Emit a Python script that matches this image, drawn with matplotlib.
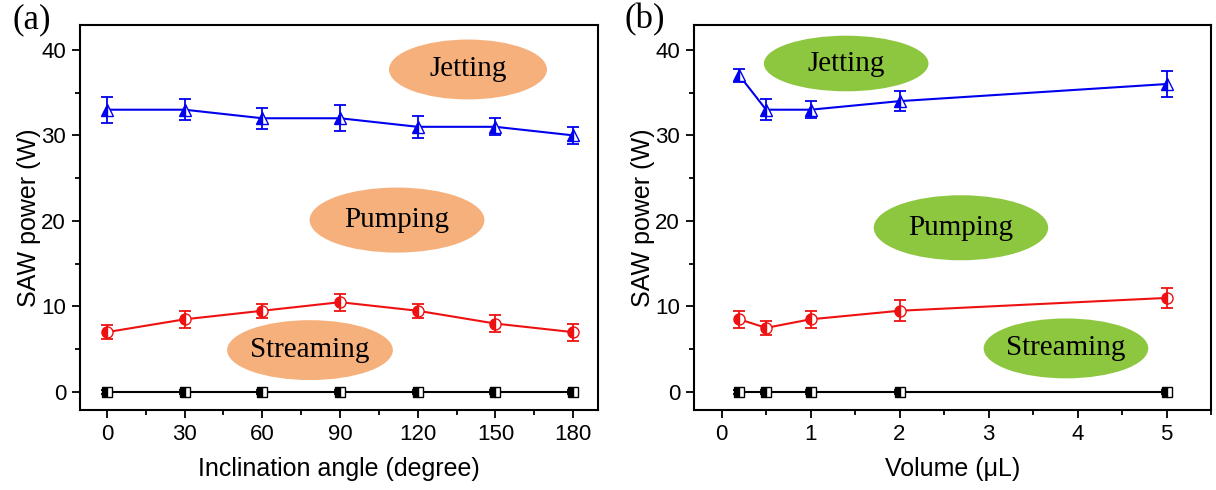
import matplotlib
matplotlib.use("Agg")
import matplotlib.pyplot as plt
from matplotlib.patches import Ellipse
from matplotlib.ticker import MultipleLocator, AutoMinorLocator

plt.rcParams['font.family'] = ['Liberation Sans', 'DejaVu Sans']

# Panel (a) data
angle = [0, 30, 60, 90, 120, 150, 180]
jet_a = [33, 33, 32, 32, 31, 31, 30]
jet_a_err = [1.5, 1.2, 1.2, 1.5, 1.3, 1.0, 1.0]
pump_a = [7, 8.5, 9.5, 10.5, 9.5, 8, 7]
pump_a_err = [0.8, 1.0, 0.8, 1.0, 0.8, 1.0, 1.0]
stream_a = [0, 0, 0, 0, 0, 0, 0]

# Panel (b) data
volume = [0.2, 0.5, 1, 2, 5]
jet_b = [37, 33, 33, 34, 36]
jet_b_err = [0.8, 1.2, 1.0, 1.2, 1.5]
pump_b = [8.5, 7.5, 8.5, 9.5, 11]
pump_b_err = [1.0, 0.8, 1.0, 1.2, 1.2]
stream_b = [0, 0, 0, 0, 0]

fig = plt.figure(figsize=(12.16, 4.9), dpi=100)
axa = fig.add_axes([80/1216, 1-410/490, (598-80)/1216, (410-25)/490])
axb = fig.add_axes([694/1216, 1-410/490, (1211-694)/1216, (410-25)/490])

def series(ax, x, y, err, color, marker, ms):
    ax.errorbar(x, y, yerr=err, color=color, marker=marker, ms=ms, fillstyle='left',
                markerfacecoloralt='white', markeredgecolor=color, lw=1.5,
                capsize=4, elinewidth=1.3, capthick=1.3, zorder=3)

def style(ax):
    for s in ax.spines.values():
        s.set_linewidth(1.5)
    ax.tick_params(which='both', direction='out', width=1.3, labelsize=16)
    ax.tick_params(which='major', length=6, pad=4)
    ax.tick_params(which='minor', length=3.5)
    ax.set_ylim(-2.1, 42.9)
    ax.yaxis.set_major_locator(MultipleLocator(10))
    ax.yaxis.set_minor_locator(AutoMinorLocator(2))
    ax.set_ylabel('SAW power (W)', fontsize=18, labelpad=0)

def bubble(ax, xy, w, h, text, color):
    ax.add_patch(Ellipse(xy, w, h, facecolor=color, edgecolor='none', zorder=1))
    ax.text(xy[0], xy[1], text, ha='center', va='center', fontsize=21,
            family=['Liberation Serif', 'DejaVu Serif'], zorder=2)

orange = '#F5B07C'
green = '#8DC63F'

# Panel a
series(axa, angle, jet_a, jet_a_err, '#0000EE', '^', 8)
series(axa, angle, pump_a, pump_a_err, '#EE1111', 'o', 8)
series(axa, angle, stream_a, [0.2]*7, 'black', 's', 6.5)
axa.set_xlim(-10.4, 189.6)
axa.xaxis.set_major_locator(MultipleLocator(30))
axa.xaxis.set_minor_locator(AutoMinorLocator(2))
axa.set_xlabel('Inclination angle (degree)', fontsize=18, labelpad=9)
style(axa)
bubble(axa, (139.4, 37.7), 61, 7.0, 'Jetting', orange)
bubble(axa, (112, 20.1), 67.5, 7.6, 'Pumping', orange)
bubble(axa, (78.4, 4.9), 64, 7.0, 'Streaming', orange)

# Panel b
series(axb, volume, jet_b, jet_b_err, '#0000EE', '^', 8)
series(axb, volume, pump_b, pump_b_err, '#EE1111', 'o', 8)
series(axb, volume, stream_b, [0.2]*5, 'black', 's', 6.5)
axb.set_xlim(-0.31, 5.5)
axb.xaxis.set_major_locator(MultipleLocator(1))
axb.xaxis.set_minor_locator(AutoMinorLocator(2))
axb.set_xlabel('Volume (μL)', fontsize=18, labelpad=9)
style(axb)
bubble(axb, (1.40, 38.4), 1.85, 6.5, 'Jetting', green)
bubble(axb, (2.69, 19.2), 1.96, 7.6, 'Pumping', green)
bubble(axb, (3.87, 5.1), 1.85, 7.0, 'Streaming', green)

fig.text(12/1216, 1-20/490, '(a)', fontsize=25, family=['Liberation Serif', 'DejaVu Serif'], va='center')
fig.text(624/1216, 1-20/490, '(b)', fontsize=25, family=['Liberation Serif', 'DejaVu Serif'], va='center')

fig.savefig('out.png', dpi=100)
